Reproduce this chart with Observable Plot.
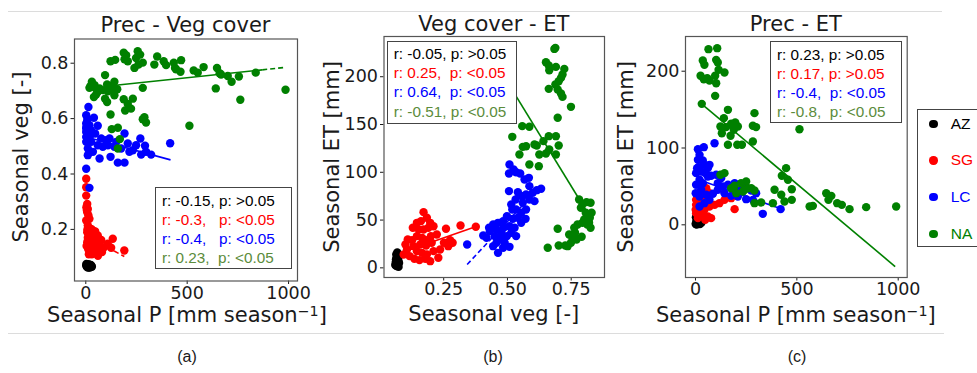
<!DOCTYPE html>
<html>
<head>
<meta charset="utf-8">
<script src="https://cdn.jsdelivr.net/npm/d3@7"></script>
<script src="https://cdn.jsdelivr.net/npm/@observablehq/plot@0.6"></script>
<style>
  body { margin: 0; background: #fff; }
  #fig { position: relative; width: 977px; height: 373px; overflow: hidden; background: #fff;
         font-family: "DejaVu Sans", sans-serif; color: #1a1a1a; }
  .panel { position: absolute; top: 0; }
  .rule { position: absolute; height: 1px; background: #dcdcdc; }
  .title, .xlab { position: absolute; font-size: 21px; line-height: 1; white-space: nowrap; transform: translateX(-50%); }
  .ylab { position: absolute; font-size: 21px; line-height: 1; white-space: nowrap; transform: translate(-50%, -50%) rotate(-90deg); }
  .sup { font-size: 0.68em; position: relative; top: -0.4em; }
  .stats { position: absolute; box-sizing: border-box; border: 1.2px solid #444; background: #fff;
           font-family: "Liberation Sans", Arial, sans-serif; font-size: 15.3px; line-height: 19.2px;
           white-space: pre; padding: 2.5px 0 0 6px; }
  .legend { position: absolute; box-sizing: border-box; border: 1.2px solid #444; background: #fff;
            font-family: "Liberation Sans", Arial, sans-serif; font-size: 15.5px; }
  .legend .item { position: absolute; left: 0; height: 20px; line-height: 20px; white-space: nowrap; }
  .legend .sw { position: absolute; left: 11.5px; top: 5.8px; width: 8.4px; height: 8.4px; border-radius: 50%; }
  .legend .lab { position: absolute; left: 33px; top: 0; }
  .cap { position: absolute; font-family: "Liberation Sans", Arial, sans-serif; font-size: 16px; line-height: 1;
         transform: translate(-50%, -50%); }
</style>
</head>
<body>
<div id="fig"></div>
<script>
// Regions and their colours
const regions = ["AZ", "SG", "LC", "NA"];
const regionColors = ["#000000", "#ff0000", "#0000ff", "#008000"];
const statColors = ["#000000", "#ff0000", "#0000ff", "#5b8c3b"];

// Panel (a): seasonal precipitation [mm/season] vs seasonal vegetation cover [-]
const precVegAZ = [[2,0.070],[5,0.065],[8,0.072],[12,0.068],[15,0.063],[18,0.070],[22,0.066],[25,0.072],[3,0.075],[10,0.062],[28,0.068],[6,0.068],[14,0.074],[20,0.062],[30,0.065]];
const precVegSG = [[2,0.383],[2,0.352],[2,0.322],[7,0.292],[3,0.280],[5,0.270],[10,0.274],[7,0.262],[13,0.250],[2,0.232],[18,0.238],[10,0.214],[26,0.202],[8,0.200],[7,0.190],[35,0.196],[46,0.193],[15,0.185],[59,0.178],[23,0.178],[10,0.170],[20,0.165],[35,0.160],[51,0.154],[76,0.162],[7,0.154],[28,0.150],[108,0.148],[18,0.142],[68,0.142],[4,0.140],[43,0.136],[92,0.136],[125,0.134],[35,0.130],[12,0.128],[133,0.166],[23,0.124],[59,0.124],[190,0.124],[80,0.118],[45,0.115],[15,0.110],[30,0.110],[60,0.105]];
const precVegLC = [[13,0.642],[2,0.612],[7,0.594],[2,0.582],[18,0.576],[40,0.603],[59,0.574],[26,0.558],[2,0.552],[2,0.534],[23,0.540],[46,0.546],[76,0.528],[100,0.522],[117,0.528],[150,0.516],[191,0.546],[207,0.510],[248,0.504],[269,0.528],[292,0.502],[232,0.486],[297,0.480],[322,0.470],[416,0.511],[109,0.504],[84,0.498],[59,0.504],[10,0.492],[35,0.480],[10,0.468],[68,0.456],[122,0.462],[158,0.441],[191,0.441],[3,0.570],[2,0.564],[2,0.516],[26,0.516],[141,0.498],[174,0.492],[215,0.480],[273,0.470],[2,0.419],[18,0.350]];
const precVegNA = [[187,0.838],[199,0.829],[191,0.814],[207,0.807],[256,0.843],[268,0.831],[248,0.819],[281,0.802],[240,0.783],[260,0.795],[122,0.807],[145,0.812],[352,0.824],[338,0.795],[384,0.807],[396,0.793],[434,0.802],[440,0.783],[470,0.811],[467,0.769],[445,0.778],[532,0.774],[552,0.766],[581,0.786],[647,0.783],[667,0.759],[660,0.764],[700,0.754],[719,0.733],[755,0.752],[838,0.766],[762,0.668],[641,0.709],[985,0.704],[281,0.711],[95,0.757],[30,0.733],[23,0.718],[46,0.711],[59,0.697],[40,0.678],[51,0.687],[105,0.723],[128,0.718],[141,0.733],[155,0.706],[122,0.703],[141,0.684],[95,0.672],[105,0.660],[187,0.670],[207,0.653],[232,0.672],[223,0.636],[194,0.629],[122,0.615],[289,0.605],[297,0.586],[281,0.598],[128,0.562],[158,0.567],[511,0.574],[168,0.526],[158,0.492],[18,0.711],[43,0.721],[68,0.709],[84,0.703],[109,0.699]];

// Panel (b): seasonal vegetation cover [-] vs seasonal ET [mm]
const vegEtAZ = [[0.065,2],[0.070,4],[0.062,6],[0.072,8],[0.066,10],[0.070,12],[0.064,14],[0.068,16],[0.075,5],[0.060,3],[0.073,1],[0.067,7],[0.071,10],[0.063,9],[0.069,3]];
const vegEtSG = [[0.171,58.3],[0.184,52.4],[0.161,48.9],[0.145,47.1],[0.197,47.1],[0.129,41.9],[0.152,40.2],[0.171,40.2],[0.190,41.9],[0.210,43.6],[0.109,29.7],[0.126,29.0],[0.145,33.2],[0.165,31.4],[0.181,29.0],[0.200,33.2],[0.223,34.9],[0.259,40.9],[0.275,29.0],[0.285,26.2],[0.316,44.3],[0.376,43.0],[0.132,22.7],[0.158,24.5],[0.181,23.4],[0.203,26.2],[0.145,17.5],[0.165,15.7],[0.184,14.0],[0.210,17.5],[0.229,10.5],[0.116,12.3],[0.135,9.5],[0.155,8.1],[0.178,9.5],[0.197,7.0],[0.236,19.2],[0.251,26.2],[0.268,22.7],[0.093,14.0],[0.106,19.2],[0.100,24.5]];
const vegEtLC = [[0.508,108.2],[0.524,102.9],[0.534,100.1],[0.506,98.7],[0.550,98.7],[0.567,92.5],[0.584,94.2],[0.506,80.3],[0.541,79.2],[0.558,75.0],[0.586,85.5],[0.599,78.5],[0.615,81.3],[0.632,82.7],[0.573,76.8],[0.532,71.5],[0.560,68.0],[0.586,71.5],[0.606,69.8],[0.573,61.1],[0.554,57.6],[0.534,61.1],[0.515,66.3],[0.498,54.1],[0.521,51.3],[0.541,52.4],[0.483,48.9],[0.463,47.1],[0.444,45.4],[0.428,41.9],[0.457,40.2],[0.485,41.9],[0.508,43.6],[0.528,41.9],[0.476,36.7],[0.498,33.2],[0.515,36.7],[0.450,33.2],[0.431,38.4],[0.470,29.7],[0.489,26.2],[0.508,22.0],[0.463,15.7],[0.483,21.0],[0.444,22.7],[0.405,33.9],[0.342,24.5],[0.554,47.1],[0.571,51.3],[0.519,61.1],[0.476,33.2],[0.534,33.2],[0.418,31.4],[0.457,26.2]];
const vegEtNA = [[0.684,229.1],[0.688,230.2],[0.651,215.2],[0.662,211.7],[0.664,206.8],[0.690,210.3],[0.723,208.2],[0.716,202.3],[0.710,198.8],[0.701,195.3],[0.688,191.8],[0.697,186.6],[0.710,182.4],[0.716,178.9],[0.662,187.3],[0.749,168.5],[0.697,157.0],[0.558,148.3],[0.586,147.6],[0.519,137.1],[0.560,126.6],[0.573,127.3],[0.547,118.6],[0.606,129.1],[0.615,128.0],[0.641,132.6],[0.662,137.8],[0.690,137.8],[0.701,128.0],[0.664,123.8],[0.651,119.6],[0.586,108.2],[0.623,106.4],[0.625,118.6],[0.690,118.6],[0.781,71.5],[0.794,66.3],[0.810,68.8],[0.826,68.1],[0.788,62.8],[0.807,57.6],[0.830,57.6],[0.823,52.4],[0.801,50.6],[0.794,47.1],[0.813,45.4],[0.775,45.4],[0.762,41.9],[0.765,36.7],[0.742,34.9],[0.755,31.4],[0.771,29.7],[0.791,32.5],[0.749,26.2],[0.736,22.7],[0.727,23.4],[0.701,23.4],[0.697,40.9],[0.658,21.0],[0.826,41.9],[0.820,47.1]];

// Panel (c): seasonal precipitation [mm/season] vs seasonal ET [mm]
const precEtAZ = [[1,1],[3,2],[6,0.5],[10,3],[15,1.5],[20,2],[25,4],[30,3],[5,6],[12,5],[8,8],[2,10],[18,6],[22,1],[28,5]];
const precEtSG = [[53,47.7],[69,41.2],[48,32.5],[12,36.9],[28,28.2],[3,26.0],[20,21.7],[44,19.5],[69,23.9],[94,26.0],[118,28.2],[143,32.5],[176,34.7],[3,15.2],[36,13.0],[61,10.8],[12,8.7],[48,6.5],[77,8.7],[193,20.4],[3,32.5],[15,41.2],[1,19.5],[28,17.4],[25,53.4],[49,42.4]];
const precEtLC = [[12,98.5],[41,101.1],[20,91.1],[12,84.6],[36,83.8],[44,78.1],[15,75.1],[3,67.3],[28,69.4],[48,67.3],[69,78.1],[94,106.3],[61,62.9],[20,58.6],[36,54.2],[3,52.1],[77,63.8],[102,65.1],[110,54.2],[135,49.9],[160,52.1],[193,46.4],[217,44.7],[242,47.7],[275,44.7],[299,41.2],[283,32.5],[250,33.4],[209,36.9],[176,37.7],[143,41.2],[110,45.6],[86,40.4],[53,39.1],[28,45.6],[20,36.9],[1,41.2],[332,14.3],[420,20.4],[193,54.2],[127,60.8],[61,73.8],[8,73.8],[44,28.2],[20,23.9],[69,32.5]];
const precEtNA = [[64,228.7],[107,230.0],[36,214.0],[44,208.3],[102,214.8],[110,211.3],[25,194.0],[41,189.6],[58,191.0],[69,187.9],[97,194.0],[114,201.8],[143,198.3],[102,184.4],[97,167.9],[31,157.5],[160,149.7],[140,138.9],[123,128.0],[151,127.2],[130,119.3],[176,131.5],[196,133.2],[209,128.0],[189,123.7],[173,115.9],[291,145.4],[283,128.9],[299,127.2],[283,108.5],[160,104.2],[206,104.2],[229,104.2],[513,124.5],[447,73.8],[426,63.8],[456,58.6],[475,46.4],[390,45.6],[423,39.1],[475,32.5],[439,30.4],[382,28.2],[563,23.9],[579,24.7],[645,41.2],[670,37.7],[656,32.5],[699,28.2],[722,26.0],[760,20.4],[842,23.0],[990,23.9],[225,54.2],[250,56.4],[275,47.7],[242,45.6],[193,50.8],[143,67.3],[123,65.1],[176,47.7],[201,41.2],[291,44.7],[258,47.7],[234,43.4],[291,28.2],[324,29.1]];

// Linear fits per region: [region, x1, y1, x2, y2, style]
const fitsPrecVeg = [["AZ",2,0.070,28,0.067,"solid"],["SG",40,0.160,140,0.122,"solid"],["SG",140,0.122,190,0.102,"dashed"],["LC",20,0.530,418,0.451,"solid"],["NA",100,0.717,870,0.776,"solid"],["NA",870,0.776,985,0.785,"dashed"]];
const fitsVegEt = [["AZ",0.062,4,0.075,9,"solid"],["SG",0.150,22.2,0.380,43.5,"solid"],["LC",0.342,3.5,0.430,28.6,"dashed"],["LC",0.430,28.6,0.615,81.3,"solid"],["NA",0.480,203,0.826,52.4,"solid"]];
const fitsPrecEt = [["AZ",1,0.5,45,4,"solid"],["SG",5,21,195,35,"solid"],["LC",20,58.5,425,20.5,"solid"],["NA",24,158.9,985,-54.3,"solid"]];

// Correlation statistics per region (AZ, SG, LC, NA)
const statsPrecVeg = ["r: -0.15, p: >0.05", "r: -0.3,   p: <0.05", "r: -0.4,   p: <0.05", "r: 0.23,  p: <0.05"];
const statsVegEt = ["r: -0.05, p: >0.05", "r: 0.25,  p: <0.05", "r: 0.64,  p: <0.05", "r: -0.51, p: <0.05"];
const statsPrecEt = ["r: 0.23, p: >0.05", "r: 0.17, p: >0.05", "r: -0.4,  p: <0.05", "r: -0.8,  p: <0.05"];

// Axis ticks
const ticksPrec = [0, 500, 1000];
const ticksVeg = [0.2, 0.4, 0.6, 0.8];
const ticksVegX = [0.25, 0.50, 0.75];
const ticksEtB = [0, 50, 100, 150, 200];
const ticksEtC = [0, 100, 200];

const fig = document.getElementById("fig");
const colorOf = g => regionColors[regions.indexOf(g)];

function scatterPanel(cfg) {
  const marks = [];
  cfg.series.forEach((pts, i) => {
    const g = regions[i];
    marks.push(Plot.dot(pts, {x: d => d[0], y: d => d[1], r: 4.2, fill: colorOf(g)}));
    const segs = cfg.fits.filter(f => f[0] === g);
    const link = {x1: f => f[1], y1: f => f[2], x2: f => f[3], y2: f => f[4], stroke: colorOf(g), strokeWidth: 1.6};
    marks.push(Plot.link(segs.filter(f => f[5] === "solid"), link));
    marks.push(Plot.link(segs.filter(f => f[5] === "dashed"), {...link, strokeDasharray: "5,3"}));
  });
  marks.push(Plot.frame({stroke: "#555", strokeWidth: 1.2}));
  const svg = Plot.plot({
    width: cfg.width, height: cfg.height,
    marginTop: cfg.m[0], marginRight: cfg.m[1], marginBottom: cfg.m[2], marginLeft: cfg.m[3],
    x: {domain: cfg.xDomain, ticks: cfg.xTicks, tickFormat: cfg.xFormat, tickSize: 3.5, tickPadding: 2, label: null},
    y: {domain: cfg.yDomain, ticks: cfg.yTicks, tickFormat: cfg.yFormat, tickSize: 3.5, tickPadding: 2.5, label: null},
    style: {fontFamily: "DejaVu Sans", fontSize: "17.5px", color: "#1a1a1a", background: "transparent", overflow: "visible"},
    marks
  });
  svg.classList.add("panel");
  svg.style.left = cfg.left + "px";
  svg.style.maxWidth = "none";
  fig.appendChild(svg);
}

scatterPanel({
  left: 0, width: 320, height: 330, m: [38.5, 23, 49.5, 74],
  xDomain: [-55.7, 1044], yDomain: [0.0137, 0.8874],
  xTicks: ticksPrec, yTicks: ticksVeg, xFormat: d3.format("d"), yFormat: d3.format(".1f"),
  series: [precVegAZ, precVegSG, precVegLC, precVegNA], fits: fitsPrecVeg
});
scatterPanel({
  left: 320, width: 310, height: 330, m: [36, 26, 53, 63.5],
  xDomain: [0.0159, 0.8806], yDomain: [-10.1, 242.1],
  xTicks: ticksVegX, yTicks: ticksEtB, xFormat: d3.format(".2f"), yFormat: d3.format("d"),
  series: [vegEtAZ, vegEtSG, vegEtLC, vegEtNA], fits: fitsVegEt
});
scatterPanel({
  left: 630, width: 290, height: 330, m: [36, 13.3, 53, 55],
  xDomain: [-49.3, 1044.4], yDomain: [-68.6, 245.2],
  xTicks: ticksPrec, yTicks: ticksEtC, xFormat: d3.format("d"), yFormat: d3.format("d"),
  series: [precEtAZ, precEtSG, precEtLC, precEtNA], fits: fitsPrecEt
});

function addDiv(cls, style, html) {
  const el = document.createElement("div");
  el.className = cls;
  Object.assign(el.style, style);
  el.innerHTML = html;
  fig.appendChild(el);
  return el;
}

// Page rules above and below the figure row
addDiv("rule", {left: "8px", top: "11px", width: "934px"}, "");
addDiv("rule", {left: "8px", top: "333px", width: "936px"}, "");

// Titles and axis labels
const precLabel = 'Seasonal P [mm season<span class="sup">\u22121</span>]';
addDiv("title", {left: "185.5px", top: "15.2px"}, "Prec - Veg cover");
addDiv("title", {left: "493.8px", top: "13.7px"}, "Veg cover - ET");
addDiv("title", {left: "795.8px", top: "13.9px"}, "Prec - ET");
addDiv("xlab", {left: "187px", top: "304.7px"}, precLabel);
addDiv("xlab", {left: "493.8px", top: "304.2px"}, "Seasonal veg [-]");
addDiv("xlab", {left: "795.8px", top: "304.7px"}, precLabel);
addDiv("ylab", {left: "21px", top: "157px"}, "Seasonal veg [-]");
addDiv("ylab", {left: "332px", top: "156.5px"}, "Seasonal ET [mm]");
addDiv("ylab", {left: "625.5px", top: "156.5px"}, "Seasonal ET [mm]");

// Statistics boxes
function statsBox(lines, left, top, width, height) {
  const html = lines.map((t, i) => `<div style="color:${statColors[i]}">${t}</div>`).join("");
  addDiv("stats", {left: left + "px", top: top + "px", width: width + "px", height: height + "px"}, html);
}
statsBox(statsPrecVeg, 155, 187.3, 137, 82);
statsBox(statsVegEt, 386.7, 40.5, 130, 83);
statsBox(statsPrecEt, 770, 41, 132, 82);

// Region legend
const legendRows = [124, 160.7, 197.3, 234];
const lg = addDiv("legend", {left: "916.7px", top: "109.3px", width: "90px", height: "137.4px"}, "");
regions.forEach((g, i) => {
  const item = document.createElement("div");
  item.className = "item";
  item.style.top = (legendRows[i] - 109.3 - 1.2 - 10) + "px";
  item.innerHTML = `<span class="sw" style="background:${regionColors[i]}"></span><span class="lab" style="color:${regionColors[i]}">${g}</span>`;
  lg.appendChild(item);
});

// Panel captions
addDiv("cap", {left: "187px", top: "357px"}, "(a)");
addDiv("cap", {left: "493px", top: "357px"}, "(b)");
addDiv("cap", {left: "797px", top: "357px"}, "(c)");
</script>
</body>
</html>
